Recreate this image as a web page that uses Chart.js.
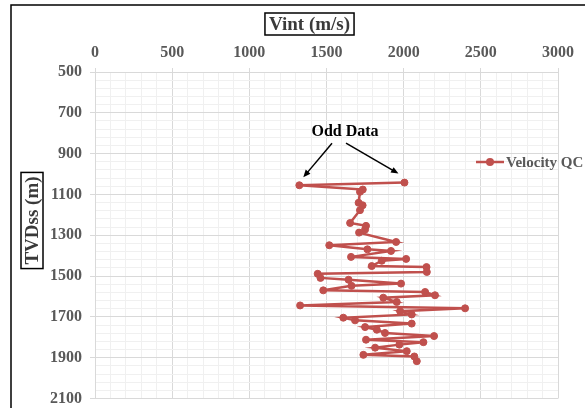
<!DOCTYPE html>
<html>

<head>
  <script src="https://cdn.jsdelivr.net/npm/chart.js@4.4.1/dist/chart.umd.min.js"></script>
  <style>
    body { margin: 0; background: #fff; }
  </style>
</head>

<body>
  <div id="chart" style="position:relative; width:585px; height:408px"></div>
  <script>
    // interval velocity (m/s) against depth (TVDss, m)
    var depth = [1042, 1055, 1076, 1087, 1141, 1153, 1177, 1240, 1254, 1272, 1287, 1333, 1349, 1369, 1377,
      1406, 1416, 1425, 1451, 1456, 1480, 1489, 1509, 1518, 1537, 1548, 1570, 1578, 1594, 1606, 1627,
      1644, 1658, 1672, 1688, 1704, 1717, 1733, 1750, 1763, 1779, 1794, 1812, 1824, 1836, 1851, 1868,
      1886, 1894, 1917];
    var vint = [2005, 1324, 1735, 1717, 1708, 1734, 1717, 1653, 1756, 1750, 1711, 1951, 1518, 1765, 1918,
      1659, 2016, 1858, 1793, 2148, 2150, 1443, 1461, 1643, 1983, 1662, 1479, 2139, 2203, 1868, 1955,
      1329, 2398, 1977, 2052, 1609, 1685, 2052, 1750, 1826, 1879, 2197, 1756, 2128, 1972, 1815, 2020,
      1739, 2069, 2085];
    var seriesName = 'Velocity QC';
    var xTitle = 'Vint (m/s)';
    var yTitle = 'TVDss (m)';
    var note = 'Odd Data';
    var oddIdx = [1, 0];

    var red = '#C0504D';
    var serif = '"Liberation Serif", "Times New Roman", serif';

    function isMajorX(v) { return v % 500 === 0; }
    function isMajorY(v) { return (v - 500) % 200 === 0; }

    function arrow(ctx, x1, y1, x2, y2) {
      var a = Math.atan2(y2 - y1, x2 - x1);
      var h = 8;
      ctx.beginPath();
      ctx.moveTo(x1, y1);
      ctx.lineTo(x2 - Math.cos(a) * h * 0.8, y2 - Math.sin(a) * h * 0.8);
      ctx.stroke();
      ctx.beginPath();
      ctx.moveTo(x2, y2);
      ctx.lineTo(x2 - h * Math.cos(a - 0.4), y2 - h * Math.sin(a - 0.4));
      ctx.lineTo(x2 - h * Math.cos(a + 0.4), y2 - h * Math.sin(a + 0.4));
      ctx.closePath();
      ctx.fill();
    }

    function boxedText(ctx, text, cx, cy, rot) {
      ctx.save();
      ctx.translate(cx, cy);
      ctx.rotate(rot);
      ctx.font = 'bold 19px ' + serif;
      ctx.textAlign = 'center';
      ctx.textBaseline = 'middle';
      var w = ctx.measureText(text).width;
      ctx.fillStyle = '#3a3a3a';
      ctx.fillText(text, 0, 1);
      ctx.strokeStyle = '#000';
      ctx.lineWidth = 1.5;
      ctx.strokeRect(-w / 2 - 4, -11, w + 8, 22);
      ctx.restore();
    }

    var decorations = {
      id: 'decorations',
      beforeDraw: function (chart) {
        var ctx = chart.ctx;
        ctx.save();
        ctx.fillStyle = '#fff';
        ctx.fillRect(0, 0, chart.width, chart.height);
        ctx.restore();
      },
      afterDraw: function (chart) {
        var ctx = chart.ctx;
        var xs = chart.scales.x, ys = chart.scales.y;
        ctx.save();

        // chart frame
        ctx.strokeStyle = '#000';
        ctx.lineWidth = 1.5;
        ctx.strokeRect(11, 5, 700, 700);

        // axis titles
        boxedText(ctx, xTitle, 309.5, 24, 0);
        boxedText(ctx, yTitle, 32, 220.5, -Math.PI / 2);

        // legend
        var ly = 162;
        ctx.strokeStyle = red;
        ctx.fillStyle = red;
        ctx.lineWidth = 2.5;
        ctx.beginPath();
        ctx.moveTo(476, ly);
        ctx.lineTo(504, ly);
        ctx.stroke();
        ctx.beginPath();
        ctx.arc(490, ly, 4, 0, Math.PI * 2);
        ctx.fill();
        ctx.fillStyle = '#595959';
        ctx.font = 'bold 15px ' + serif;
        ctx.textAlign = 'left';
        ctx.textBaseline = 'middle';
        ctx.fillText(seriesName, 506, ly + 1);

        // note pointing at the two outliers
        var tx = xs.getPixelForValue(1620), ty = ys.getPixelForValue(795);
        ctx.fillStyle = '#000';
        ctx.font = 'bold 16px ' + serif;
        ctx.textAlign = 'center';
        ctx.fillText(note, tx, ty);
        ctx.strokeStyle = '#000';
        ctx.lineWidth = 1.5;
        var pl = oddIdx[0], pr = oddIdx[1];
        arrow(ctx, tx - 13, ty + 11, xs.getPixelForValue(vint[pl]) + 4, ys.getPixelForValue(depth[pl]) - 8);
        arrow(ctx, tx + 1, ty + 11, xs.getPixelForValue(vint[pr]) - 6, ys.getPixelForValue(depth[pr]) - 9);
        ctx.restore();
      }
    };

    function plotChart() {
      var canvas = document.createElement('canvas');
      canvas.width = 585;
      canvas.height = 408;
      document.getElementById('chart').appendChild(canvas);
      var cxt = canvas.getContext('2d');
      var points = vint.map(function (v, i) { return { x: v, y: depth[i] }; });

      new Chart(cxt, {
        type: 'scatter',
        data: {
          datasets: [{
            label: seriesName,
            data: points,
            showLine: true,
            borderColor: red,
            backgroundColor: red,
            borderWidth: 2.5,
            pointRadius: 3.5,
            pointBorderWidth: 1,
            pointBorderColor: red,
            pointBackgroundColor: red,
            tension: 0
          }]
        },
        options: {
          responsive: false,
          animation: false,
          devicePixelRatio: 1,
          layout: { padding: { left: 0, top: 0, right: 27, bottom: 9.5 } },
          plugins: {
            legend: { display: false },
            tooltip: { enabled: false }
          },
          scales: {
            x: {
              type: 'linear',
              position: 'top',
              min: 0,
              max: 3000,
              afterFit: function (s) { s.height = 72; },
              ticks: {
                stepSize: 100,
                autoSkip: false,
                maxRotation: 0,
                padding: 6,
                color: '#595959',
                font: { family: serif, size: 16, weight: 'bold' },
                callback: function (v) { return isMajorX(v) ? String(v) : ''; }
              },
              grid: {
                tickLength: 4,
                color: function (c) { return isMajorX(c.tick.value) ? '#d9d9d9' : '#f0f0f0'; },
                tickColor: function (c) { return isMajorX(c.tick.value) ? '#d9d9d9' : 'rgba(0,0,0,0)'; }
              },
              border: { color: '#d9d9d9' }
            },
            y: {
              type: 'linear',
              reverse: true,
              min: 500,
              max: 2100,
              afterFit: function (s) {
                s.width = 95;
                s.paddingTop = 0;
                s.paddingBottom = 0;
              },
              ticks: {
                stepSize: 40,
                autoSkip: false,
                padding: 8,
                color: '#595959',
                font: { family: serif, size: 16, weight: 'bold' },
                callback: function (v) { return isMajorY(v) ? String(v) : ''; }
              },
              grid: {
                tickLength: 5,
                color: function (c) { return isMajorY(c.tick.value) ? '#d9d9d9' : '#f0f0f0'; },
                tickColor: function (c) { return isMajorY(c.tick.value) ? '#d9d9d9' : 'rgba(0,0,0,0)'; }
              },
              border: { color: '#d9d9d9' }
            }
          }
        },
        plugins: [decorations]
      });
    }

    plotChart();
  </script>
</body>

</html>
